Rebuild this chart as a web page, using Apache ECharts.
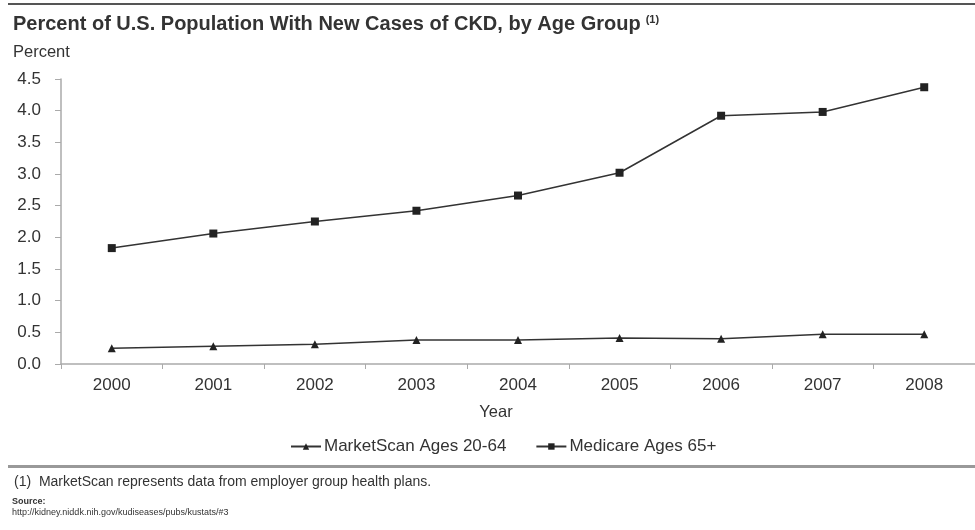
<!DOCTYPE html>
<html>
<head>
<meta charset="utf-8">
<script src="https://cdn.jsdelivr.net/npm/echarts@6/dist/echarts.min.js"></script>
<style>html,body{margin:0;padding:0;background:#fff}#c{width:975px;height:530px}</style>
</head>
<body>
<div id="c"></div>
<script>
const years = ['2000','2001','2002','2003','2004','2005','2006','2007','2008'];
const marketScan = [0.25, 0.28, 0.31, 0.38, 0.38, 0.41, 0.40, 0.47, 0.47];
const medicare = [1.83, 2.06, 2.25, 2.42, 2.66, 3.02, 3.92, 3.98, 4.37];
const seriesNames = ['MarketScan Ages 20-64', 'Medicare Ages 65+'];

const FONT = '"Liberation Sans", Arial, sans-serif';
const chart = echarts.init(document.getElementById('c'));
chart.setOption({
  animation: false,
  textStyle: { fontFamily: FONT },
  title: {
    left: 8, top: 9,
    text: '{t|Percent of U.S. Population With New Cases of CKD, by Age Group} {s|(1)}',
    textStyle: {
      rich: {
        t: { fontFamily: FONT, fontSize: 20, fontWeight: 'bold', color: '#333' },
        s: { fontFamily: FONT, fontSize: 11, color: '#333', verticalAlign: 'top', padding: [0,0,9,0] }
      }
    }
  },
  grid: { left: 61, top: 79, width: 921.6, height: 285 },
  legend: {
    top: 433,
    left: 285,
    itemWidth: 30, itemHeight: 8, itemGap: 29,
    textStyle: { fontFamily: FONT, fontSize: 17, color: '#333', padding: [0,0,0,-2] },
    data: seriesNames
  },
  xAxis: {
    type: 'category', data: years, boundaryGap: true,
    name: 'Year', nameLocation: 'middle', nameGap: 40,
    nameTextStyle: { fontFamily: FONT, fontSize: 16.5, color: '#333', padding: [0, 44, 0, 0] },
    axisLine: { lineStyle: { color: '#aaa', width: 1.5 } },
    axisTick: { show: true, length: 5, alignWithLabel: false, lineStyle: { color: '#aaa' } },
    axisLabel: { fontFamily: FONT, fontSize: 17, color: '#333', margin: 13 }
  },
  yAxis: {
    type: 'value', min: 0, max: 4.5, interval: 0.5,
    name: 'Percent', nameLocation: 'end',
    nameTextStyle: { fontFamily: FONT, fontSize: 16.5, color: '#333', align: 'left', padding: [0,0,4,-48] },
    nameGap: 14,
    splitLine: { show: false },
    axisLine: { show: true, lineStyle: { color: '#aaa', width: 1.5 } },
    axisTick: { show: true, length: 6, lineStyle: { color: '#aaa' } },
    axisLabel: { fontFamily: FONT, fontSize: 17, color: '#333', margin: 20, formatter: v => v.toFixed(1) }
  },
  series: [
    {
      name: seriesNames[0], type: 'line', data: marketScan,
      symbol: 'triangle', symbolSize: 8, showSymbol: true,
      lineStyle: { color: '#333', width: 1.5 },
      itemStyle: { color: '#222' }
    },
    {
      name: seriesNames[1], type: 'line', data: medicare,
      symbol: 'rect', symbolSize: 8, showSymbol: true,
      lineStyle: { color: '#333', width: 1.5 },
      itemStyle: { color: '#222' }
    }
  ],
  graphic: [
    { type: 'rect', shape: { x: 8, y: 3, width: 967, height: 2 }, style: { fill: '#555' } },
    { type: 'rect', shape: { x: 8, y: 465, width: 967, height: 3 }, style: { fill: '#999' } },
    { type: 'text', left: 14, top: 475, style: { text: '(1)  MarketScan represents data from employer group health plans.', font: '14px "Liberation Sans", Arial, sans-serif', fill: '#333' } },
    { type: 'text', left: 12, top: 497, style: { text: 'Source:', font: 'bold 9px "Liberation Sans", Arial, sans-serif', fill: '#333' } },
    { type: 'text', left: 12, top: 508, style: { text: 'http://kidney.niddk.nih.gov/kudiseases/pubs/kustats/#3', font: '9px "Liberation Sans", Arial, sans-serif', fill: '#333' } }
  ]
});
</script>
</body>
</html>
